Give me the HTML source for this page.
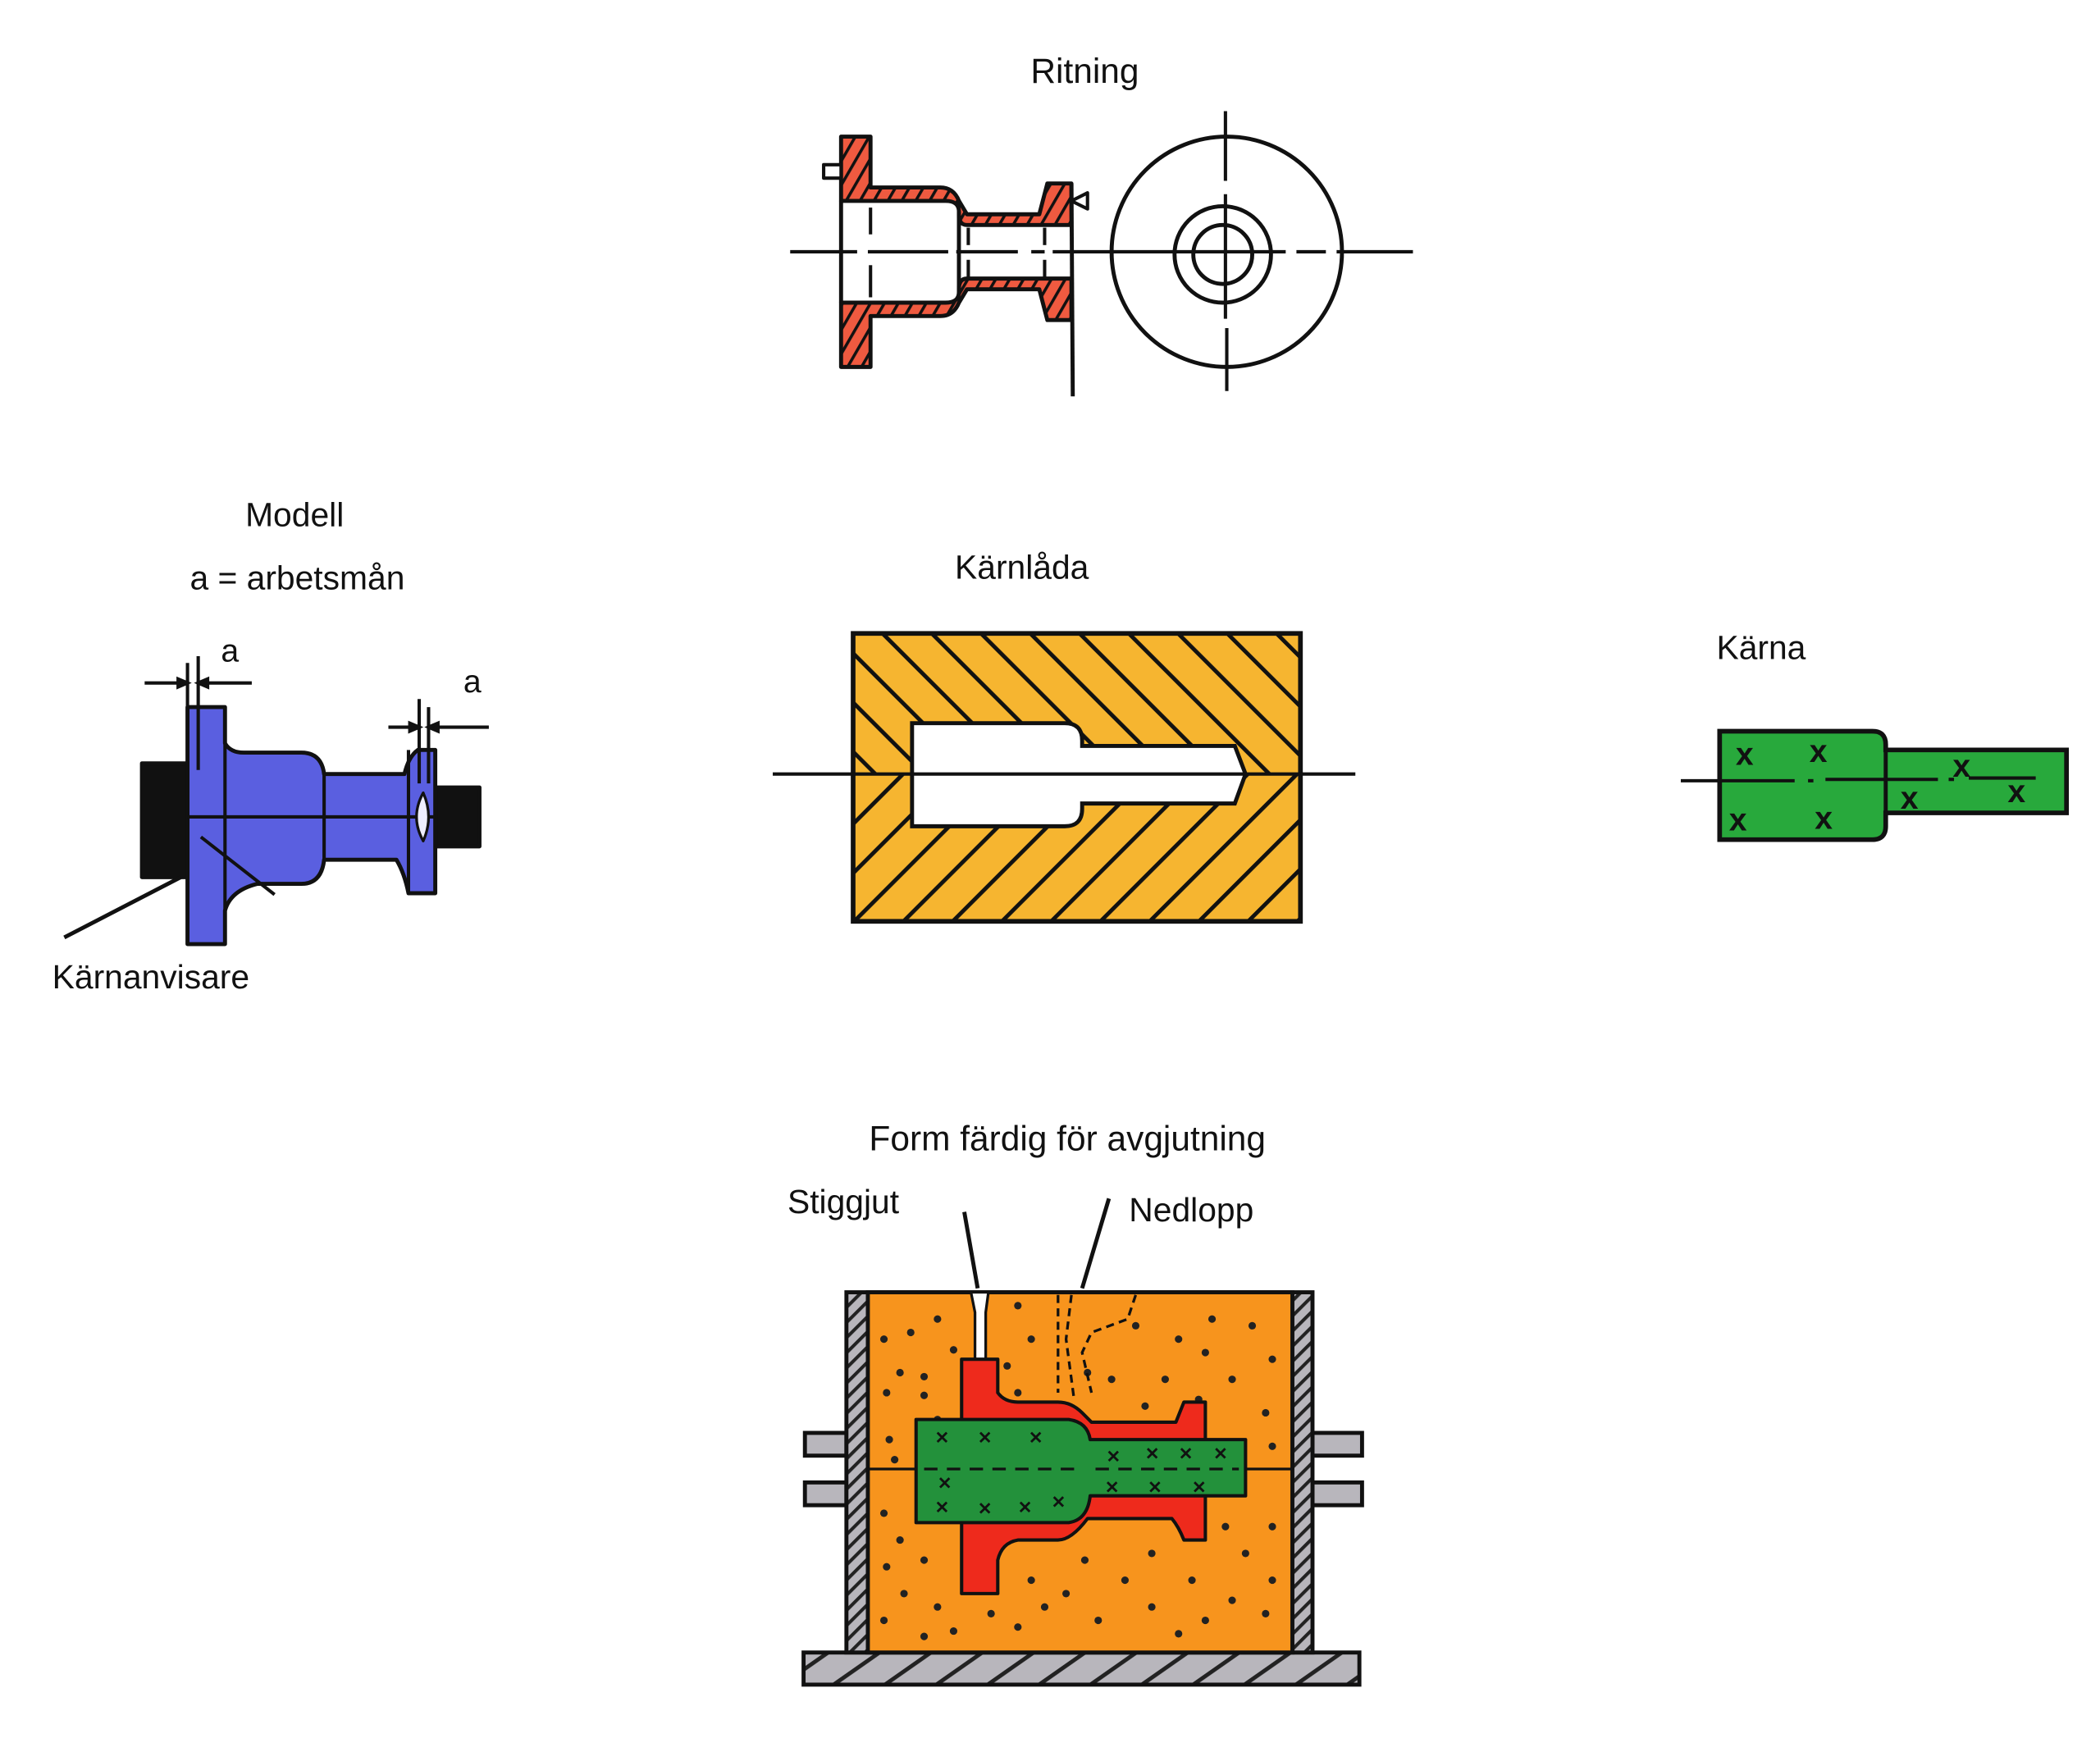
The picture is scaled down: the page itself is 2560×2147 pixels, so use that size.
<!DOCTYPE html>
<html><head><meta charset="utf-8"><style>
html,body{margin:0;padding:0;background:#fff}
svg{display:block}
text{font-family:"Liberation Sans",sans-serif;fill:#111}
</style></head><body>
<svg width="2560" height="2147" viewBox="0 0 1568 1315" xmlns="http://www.w3.org/2000/svg">
<defs>
<pattern id="redh" width="9" height="9" patternUnits="userSpaceOnUse" patternTransform="rotate(30)">
<rect width="9" height="9" fill="#ef5a40"/><rect width="2.2" height="9" fill="#111"/></pattern>
<pattern id="hatA" width="26" height="26" patternUnits="userSpaceOnUse" patternTransform="rotate(-45)">
<rect width="26" height="26" fill="#f6b530"/><rect width="3" height="26" fill="#111"/></pattern>
<pattern id="hatB" width="26" height="26" patternUnits="userSpaceOnUse" patternTransform="rotate(45)">
<rect width="26" height="26" fill="#f6b530"/><rect width="3" height="26" fill="#111"/></pattern>
<pattern id="grayh" width="8" height="8" patternUnits="userSpaceOnUse" patternTransform="rotate(45)">
<rect width="8" height="8" fill="#b8b6bc"/><rect width="2.5" height="8" fill="#222"/></pattern>
<pattern id="grayb" width="22" height="22" patternUnits="userSpaceOnUse" patternTransform="rotate(55)">
<rect width="22" height="22" fill="#b8b6bc"/><rect width="3" height="22" fill="#222"/></pattern>
<clipPath id="top"><rect x="600" y="460" width="400" height="118"/></clipPath>
<clipPath id="bot"><rect x="600" y="578" width="400" height="120"/></clipPath>
</defs>

<!-- Titles -->
<text x="810" y="62" font-size="26" text-anchor="middle">Ritning</text>
<text x="220" y="393" font-size="25" text-anchor="middle">Modell</text>
<text x="222" y="440" font-size="25" text-anchor="middle">a = arbetsmån</text>
<text x="763" y="432" font-size="25" text-anchor="middle">Kärnlåda</text>
<text x="1315" y="492" font-size="25" text-anchor="middle">Kärna</text>
<text x="39" y="738" font-size="25">Kärnanvisare</text>
<text x="797" y="859" font-size="26" text-anchor="middle">Form färdig för avgjutning</text>
<text x="588" y="906" font-size="25">Stiggjut</text>
<text x="843" y="912" font-size="25">Nedlopp</text>

<!-- RITNING -->
<g stroke="#111" stroke-width="3" stroke-linejoin="round">
<path fill="url(#redh)" d="M628,102 L650,102 L650,140 L702,140 Q712,140 716,150 L722,160 L776,160 L782,137 L800,137 L800,168 L722,168 Q716,168 716,160 L716,158 Q716,150 706,150 L628,150 Z"/>
<path fill="url(#redh)" d="M628,274 L650,274 L650,236 L702,236 Q712,236 716,226 L722,216 L776,216 L782,239 L800,239 L800,208 L722,208 Q716,208 716,216 L716,218 Q716,226 706,226 L628,226 Z"/>
<rect x="615" y="123" width="13" height="10" fill="#fff" stroke-width="2.5"/>
<path d="M800,150 L812,144 L812,156 Z" fill="#fff" stroke-width="2.5"/>
<line x1="800" y1="137" x2="801" y2="296"/>
<line x1="628" y1="150" x2="628" y2="226"/>
<line x1="716" y1="158" x2="716" y2="218"/>
<circle cx="916" cy="188" r="86" fill="none"/>
<circle cx="913" cy="190" r="36" fill="none"/>
<circle cx="913" cy="190" r="22" fill="none"/>
</g>
<g stroke="#111" stroke-width="2.5">
<line x1="590" y1="188" x2="640" y2="188"/><line x1="648" y1="188" x2="708" y2="188"/><line x1="714" y1="188" x2="760" y2="188"/><line x1="770" y1="188" x2="780" y2="188"/><line x1="786" y1="188" x2="960" y2="188"/><line x1="968" y1="188" x2="990" y2="188"/><line x1="998" y1="188" x2="1055" y2="188"/>
<line x1="650" y1="155" x2="650" y2="175"/><line x1="650" y1="198" x2="650" y2="222"/>
<line x1="723" y1="170" x2="723" y2="183"/><line x1="723" y1="194" x2="723" y2="207"/>
<line x1="780" y1="170" x2="780" y2="183"/><line x1="780" y1="194" x2="780" y2="207"/>
<line x1="915" y1="83" x2="915" y2="135"/><line x1="915" y1="145" x2="915" y2="238"/><line x1="916" y1="245" x2="916" y2="292"/>
</g>

<!-- MODELL -->
<g stroke="#111" stroke-width="3" stroke-linejoin="round">
<rect x="106" y="570" width="36" height="85" fill="#111"/>
<rect x="322" y="588" width="36" height="44" fill="#111"/>
<path fill="#5a5fe0" d="M140,528 L168,528 L168,555 Q172,562 182,562 L225,562 Q240,562 242,578 L302,578 Q305,565 312,560 L325,560 L325,667 L305,667 Q302,652 296,642 L242,642 Q240,660 225,660 L192,660 Q172,665 168,680 L168,705 L140,705 Z"/>
<line x1="140" y1="610" x2="325" y2="610" stroke-width="2.5"/>
<line x1="168" y1="528" x2="168" y2="705" stroke-width="2.5"/>
<line x1="242" y1="578" x2="242" y2="642" stroke-width="2.5"/>
<line x1="305" y1="560" x2="305" y2="667" stroke-width="2.5"/>
<line x1="150" y1="625" x2="205" y2="668" stroke-width="2.5"/>
<path d="M316,592 Q306,610 316,628 Q324,610 316,592 Z" fill="#eef" stroke-width="2"/>
</g>
<g stroke="#111" stroke-width="2.5" fill="#111">
<line x1="140" y1="495" x2="140" y2="528"/><line x1="148" y1="490" x2="148" y2="575"/>
<line x1="108" y1="510" x2="140" y2="510"/><line x1="148" y1="510" x2="188" y2="510"/>
<path d="M140,510 l-7,-3 v6 z"/><path d="M148,510 l7,-3 v6 z"/>
<line x1="313" y1="522" x2="313" y2="585"/><line x1="320" y1="528" x2="320" y2="585"/>
<line x1="290" y1="543" x2="313" y2="543"/><line x1="320" y1="543" x2="365" y2="543"/>
<path d="M313,543 l-7,-3 v6 z"/><path d="M320,543 l7,-3 v6 z"/>
<line x1="48" y1="700" x2="135" y2="655" stroke-width="3"/>
</g>
<text x="165" y="494" font-size="24">a</text>
<text x="346" y="517" font-size="24">a</text>

<!-- KÄRNLÅDA -->
<g stroke="#111" stroke-width="3">
<rect x="637" y="473" width="334" height="215" fill="url(#hatA)" clip-path="url(#top)"/>
<rect x="637" y="473" width="334" height="215" fill="url(#hatB)" clip-path="url(#bot)"/>
<rect x="637" y="473" width="334" height="215" fill="none" stroke-width="3.5"/>
<path d="M681,540 L795,540 Q808,540 808,553 L808,557 L922,557 L930,578 L922,600 L808,600 L808,604 Q808,617 795,617 L681,617 Z" fill="#fff"/>
<line x1="577" y1="578" x2="1012" y2="578" stroke-width="2.5"/>
</g>

<!-- KÄRNA -->
<g stroke="#111" stroke-width="3.5">
<path d="M1284,546 L1398,546 Q1408,546 1408,556 L1408,560 L1543,560 L1543,607 L1408,607 L1408,617 Q1408,627 1398,627 L1284,627 Z" fill="#28a93c"/>
<line x1="1408" y1="560" x2="1408" y2="607" stroke-width="3"/>
</g>
<g stroke="#111" stroke-width="2.5">
<line x1="1255" y1="583" x2="1340" y2="583"/><line x1="1350" y1="583" x2="1354" y2="583"/><line x1="1363" y1="582" x2="1447" y2="582"/><line x1="1455" y1="582" x2="1459" y2="582"/><line x1="1470" y1="581" x2="1520" y2="581"/>
</g>
<g font-size="24" font-weight="bold">
<text x="1296" y="571">x</text><text x="1351" y="569">x</text><text x="1291" y="620">x</text><text x="1355" y="619">x</text>
<text x="1419" y="604">x</text><text x="1458" y="580">x</text><text x="1499" y="599">x</text>
</g>

<!-- FORM -->
<g stroke="#111" stroke-width="3">
<line x1="720" y1="905" x2="730" y2="962"/>
<line x1="828" y1="895" x2="808" y2="962"/>
<rect x="600" y="1234" width="415" height="24" fill="url(#grayb)"/>
<rect x="601" y="1070" width="31" height="17" fill="#b8b6bc"/>
<rect x="601" y="1107" width="31" height="17" fill="#b8b6bc"/>
<rect x="980" y="1070" width="37" height="17" fill="#b8b6bc"/>
<rect x="980" y="1107" width="37" height="17" fill="#b8b6bc"/>
<rect x="632" y="965" width="348" height="269" fill="url(#grayh)"/>
<rect x="648" y="965" width="317" height="269" fill="#f7941d"/>
<path d="M725,965 L738,965 L736,980 L736,1015 L728,1015 L728,980 Z" fill="#fff" stroke-width="2"/>
</g>
<g fill="#222">
<circle cx="660" cy="1000" r="2.8"/><circle cx="680" cy="995" r="2.8"/><circle cx="700" cy="985" r="2.8"/><circle cx="712" cy="1008" r="2.8"/><circle cx="672" cy="1025" r="2.8"/><circle cx="662" cy="1040" r="2.8"/><circle cx="690" cy="1042" r="2.8"/><circle cx="700" cy="1060" r="2.8"/><circle cx="664" cy="1075" r="2.8"/><circle cx="668" cy="1090" r="2.8"/><circle cx="690" cy="1028" r="2.8"/><circle cx="660" cy="1130" r="2.8"/><circle cx="672" cy="1150" r="2.8"/><circle cx="662" cy="1170" r="2.8"/><circle cx="690" cy="1165" r="2.8"/><circle cx="675" cy="1190" r="2.8"/><circle cx="700" cy="1200" r="2.8"/><circle cx="660" cy="1210" r="2.8"/><circle cx="690" cy="1222" r="2.8"/><circle cx="712" cy="1218" r="2.8"/><circle cx="740" cy="1205" r="2.8"/><circle cx="760" cy="1215" r="2.8"/><circle cx="780" cy="1200" r="2.8"/><circle cx="770" cy="1180" r="2.8"/><circle cx="796" cy="1190" r="2.8"/><circle cx="820" cy="1210" r="2.8"/><circle cx="810" cy="1165" r="2.8"/><circle cx="840" cy="1180" r="2.8"/><circle cx="860" cy="1200" r="2.8"/><circle cx="880" cy="1220" r="2.8"/><circle cx="900" cy="1210" r="2.8"/><circle cx="890" cy="1180" r="2.8"/><circle cx="920" cy="1195" r="2.8"/><circle cx="945" cy="1205" r="2.8"/><circle cx="950" cy="1180" r="2.8"/><circle cx="930" cy="1160" r="2.8"/><circle cx="950" cy="1140" r="2.8"/><circle cx="915" cy="1140" r="2.8"/><circle cx="860" cy="1160" r="2.8"/><circle cx="950" cy="1080" r="2.8"/><circle cx="945" cy="1055" r="2.8"/><circle cx="920" cy="1030" r="2.8"/><circle cx="950" cy="1015" r="2.8"/><circle cx="935" cy="990" r="2.8"/><circle cx="905" cy="985" r="2.8"/><circle cx="880" cy="1000" r="2.8"/><circle cx="900" cy="1010" r="2.8"/><circle cx="870" cy="1030" r="2.8"/><circle cx="895" cy="1045" r="2.8"/><circle cx="855" cy="1050" r="2.8"/><circle cx="830" cy="1030" r="2.8"/><circle cx="812" cy="1025" r="2.8"/><circle cx="760" cy="975" r="2.8"/><circle cx="770" cy="1000" r="2.8"/><circle cx="752" cy="1020" r="2.8"/><circle cx="760" cy="1040" r="2.8"/><circle cx="848" cy="990" r="2.8"/>
</g>
<g stroke="#111" stroke-width="2" stroke-dasharray="6,4" fill="none">
<path d="M790,967 L790,1040"/><path d="M800,967 L796,1000 L802,1045"/><path d="M848,967 L842,985 L815,995 L808,1010 L815,1040"/>
</g>
<g stroke="#111" stroke-width="2.5" stroke-linejoin="round">
<path fill="#ee2a1c" d="M718,1015 L745,1015 L745,1040 Q750,1047 760,1047 L790,1047 Q800,1047 808,1055 L815,1062 L878,1062 Q882,1052 884,1047 L900,1047 L900,1150 L884,1150 Q880,1140 875,1134 L812,1134 Q800,1150 790,1150 L760,1150 Q748,1152 745,1165 L745,1190 L718,1190 Z"/>
<path fill="#23913b" d="M684,1060 L798,1060 Q812,1062 814,1075 L930,1075 L930,1117 L814,1117 Q812,1135 798,1137 L684,1137 Z"/>
<line x1="648" y1="1097" x2="684" y2="1097" stroke-width="2"/>
<line x1="930" y1="1097" x2="965" y2="1097" stroke-width="2"/>
</g>
<g stroke="#111" stroke-width="2" stroke-dasharray="10,7">
<line x1="690" y1="1097" x2="805" y2="1097"/><line x1="818" y1="1097" x2="925" y2="1097"/>
</g>
<g fill="#111" font-size="13" font-weight="bold">
<text x="698" y="1078">✕</text><text x="730" y="1078">✕</text><text x="768" y="1078">✕</text><text x="700" y="1112">✕</text><text x="698" y="1130">✕</text><text x="730" y="1131">✕</text><text x="760" y="1130">✕</text><text x="785" y="1126">✕</text>
<text x="826" y="1092">✕</text><text x="855" y="1090">✕</text><text x="880" y="1090">✕</text><text x="906" y="1090">✕</text><text x="825" y="1115">✕</text><text x="857" y="1115">✕</text><text x="890" y="1115">✕</text>
</g>
</svg>
</body></html>
